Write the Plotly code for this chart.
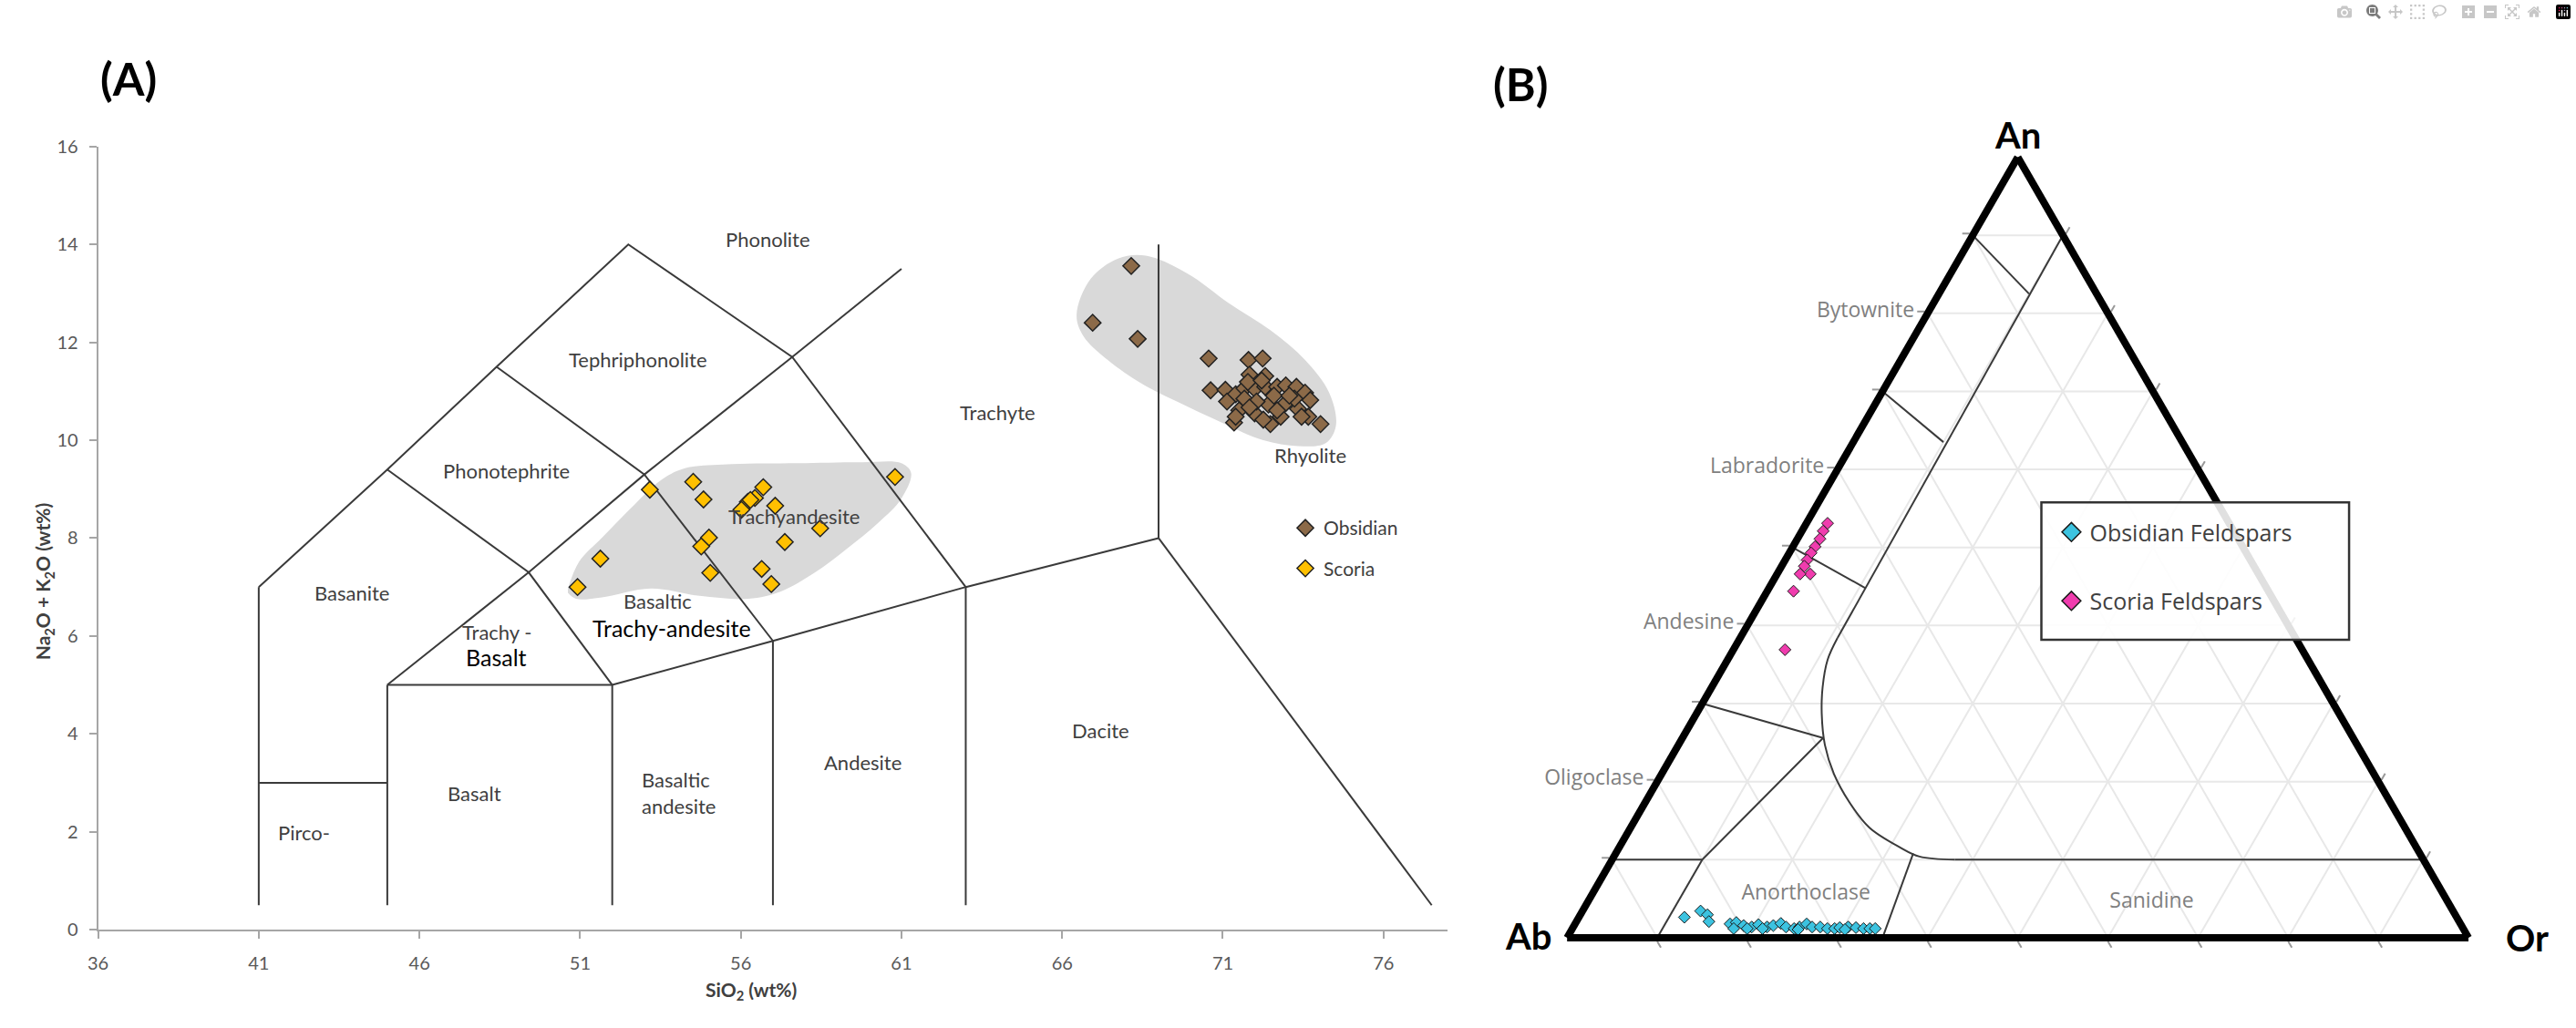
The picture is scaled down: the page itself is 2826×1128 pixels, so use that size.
import plotly.graph_objects as go

# ---------------- Panel A : TAS diagram data ----------------
OBSIDIAN_SIO2 = [68.15, 66.95, 68.35, 70.56, 71.80, 72.24, 70.62, 71.83, 72.32,
                 71.08, 71.40, 71.67, 71.99, 72.32, 72.69, 72.96, 73.29, 73.56, 73.72,
                 71.13, 71.51, 71.99, 72.42, 72.59, 72.96, 73.34, 73.66, 74.04, 71.35,
                 72.48, 72.80, 72.26, 71.67, 72.05, 73.23, 73.45, 71.78, 72.21, 71.83,
                 71.40, 72.69, 73.07]
OBSIDIAN_ALK = [13.56, 12.40, 12.07, 11.67, 11.64, 11.67, 11.02, 11.34, 11.31,
                11.03, 10.94, 11.06, 11.05, 11.09, 11.09, 11.12, 11.09, 10.97, 10.82,
                10.79, 10.61, 10.55, 10.73, 10.91, 10.76, 10.64, 10.48, 10.33, 10.36,
                10.33, 10.48, 10.42, 10.85, 10.79, 10.85, 10.48, 11.19, 11.22, 10.67,
                10.48, 10.61, 10.91]

SCORIA_SIO2 = [54.52, 53.17, 54.84, 56.70, 56.44, 56.22, 56.02, 57.07, 55.01,
               54.77, 58.47, 57.37, 51.63, 55.05, 56.65, 56.95, 50.92, 60.80, 56.30]
SCORIA_ALK = [9.15, 8.99, 8.79, 9.04, 8.82, 8.74, 8.58, 8.66, 8.01,
              7.83, 8.20, 7.92, 7.58, 7.29, 7.37, 7.06, 7.00, 9.25, 8.78]

# grey highlight fields drawn around each group
OBS_FIELD_SIO2 = [66.45, 66.88, 67.74, 68.60, 69.89, 71.19, 72.48, 73.56, 74.31, 74.52,
                  74.20, 73.34, 72.26, 70.97, 69.57, 68.49, 67.42, 66.66, 66.45]
OBS_FIELD_ALK = [12.56, 13.29, 13.71, 13.77, 13.41, 12.80, 12.25, 11.64, 10.97, 10.30,
                 9.94, 9.88, 10.00, 10.36, 10.79, 11.15, 11.64, 12.13, 12.56]
SCO_FIELD_SIO2 = [50.62, 50.97, 51.68, 52.70, 53.51, 54.22, 55.73, 57.76, 59.78, 61.00,
                  61.30, 61.00, 60.29, 59.28, 58.27, 57.25, 56.24, 54.72, 53.20, 51.68,
                  50.87, 50.62]
SCO_FIELD_ALK = [6.97, 7.52, 8.01, 8.69, 9.18, 9.42, 9.51, 9.53, 9.55, 9.53,
                 9.33, 8.81, 8.32, 7.77, 7.28, 6.91, 6.76, 6.82, 6.97, 6.79,
                 6.76, 6.88]

# TAS field boundaries (SiO2, Na2O+K2O)
TAS_BOUNDARIES = [
    [(41, 0.5), (41, 7)],
    [(41, 3), (45, 3)],
    [(45, 0.5), (45, 5)],
    [(45, 5), (52, 5)],
    [(52, 0.5), (52, 5)],
    [(57, 0.5), (57, 5.9)],
    [(63, 0.5), (63, 7)],
    [(41, 7), (45, 9.4), (48.4, 11.5), (52.5, 14), (57.6, 11.7), (63, 7)],
    [(45, 5), (49.4, 7.3), (53, 9.3), (57.6, 11.7), (61, 13.5)],
    [(45, 9.4), (49.4, 7.3), (52, 5)],
    [(48.4, 11.5), (53, 9.3), (57, 5.9)],
    [(52, 5), (57, 5.9), (63, 7), (69, 8)],
    [(69, 8), (69, 14)],
    [(69, 8), (77.5, 0.5)],
]

TAS_LABELS = [
    ("Phonolite", 56.85, 14.1),
    ("Tephriphonolite", 52.8, 11.65),
    ("Phonotephrite", 48.7, 9.38),
    ("Basanite", 43.9, 6.88),
    ("Trachy -", 48.4, 6.08),
    ("Basaltic", 53.4, 6.71),
    ("Trachyandesite", 57.66, 8.44),
    ("Trachyte", 64.0, 10.57),
    ("Rhyolite", 73.72, 9.69),
    ("Pirco-", 42.4, 1.98),
    ("Basalt", 47.7, 2.78),
    ("Andesite", 59.8, 3.42),
    ("Dacite", 67.2, 4.07),
]
TAS_LABELS_BLACK = [
    ("Basalt", 48.4, 5.57),
    ("Trachy-andesite", 53.85, 6.16),
]
TAS_LABEL_LEFT = ("Basaltic<br>andesite", 52.87, 2.8)

X_TICKS = [36, 41, 46, 51, 56, 61, 66, 71, 76]
Y_TICKS = [0, 2, 4, 6, 8, 10, 12, 14, 16]

# ---------------- Panel B : feldspar ternary data (An %, Or %) ----------------
OBS_FELD_AN = [2.62, 3.42, 2.94, 2.07, 1.76, 1.95, 1.56, 1.37, 1.68, 1.37, 1.56, 1.83,
               1.37, 1.17, 1.37, 1.76, 1.37, 1.37, 1.17, 1.17, 1.29, 1.37, 1.29, 1.17,
               1.17, 1.17, 1.17, 1.17, 1.17, 1.05, 1.05]
OBS_FELD_OR = [11.7, 13.1, 14.1, 14.7, 17.2, 17.8, 18.8, 19.8, 20.4, 21.5, 22.1, 22.8,
               23.6, 24.6, 25.1, 25.7, 26.5, 27.4, 28.3, 29.1, 29.6, 30.5, 31.4, 32.3,
               33.0, 33.6, 17.9, 19.4, 21.1, 25.1, 30.3]

SCO_FELD_AN = [53.1, 52.1, 51.1, 50.1, 49.3, 48.4, 47.6, 46.6, 46.6, 44.4, 36.9]
SCO_FELD_OR = [2.35, 2.36, 2.5, 2.46, 2.42, 2.43, 2.52, 3.67, 2.55, 2.92, 5.72]

# field boundaries as (An, Or) polylines
FELD_LINES = [
    [(90, 0), (82.5, 10)],
    [(90, 10), (38.4, 10.8)],
    [(70, 0), (63.5, 10)],
    [(50, 0), (44.8, 10.7)],
    [(30, 0), (25.6, 15.6)],
    [(25.6, 15.6), (10, 10), (10, 0)],
    [(10, 10), (0, 10)],
    [(10.8, 33), (0, 35)],
    [(10, 38), (10, 90)],
]
FELD_CURVE = [(38.4, 10.8), (35.6, 11.1), (32.1, 12.3), (28.7, 13.9), (24.7, 16.25),
              (21.0, 19.1), (17.3, 22.7), (14.1, 26.5), (11.6, 31.1), (10.4, 33.9),
              (10.0, 38)]
FELD_LABELS = [("Anorthoclase", 5.6, 23.7), ("Sanidine", 4.5, 62.6)]
AN_TICKS = [10, 20, 30, 40, 50, 60, 70, 80, 90]
AN_TICKTEXT = [" ", "Oligoclase", " ", "Andesine", " ", "Labradorite", " ", "Bytownite", " "]

# ---------------- styles ----------------
W, H = 2826, 1128
FONT_A = "Lato"
FONT_B = "Open Sans"
LINE_COL = "#3a3a3a"
AXIS_GREY = "#a6a6a6"
BROWN = "#8c6a48"
GOLD = "#ffc000"
CYAN = "#3cc3e0"
PINK = "#f03cae"


def px_x(p):
    return p / W


def px_y(p):
    return 1 - p / H


fig = go.Figure()

# grey highlight fields
for fx, fy in [(OBS_FIELD_SIO2, OBS_FIELD_ALK), (SCO_FIELD_SIO2, SCO_FIELD_ALK)]:
    fig.add_trace(go.Scatter(x=fx, y=fy, mode="lines", fill="toself",
                             fillcolor="#d9d9d9", line=dict(width=0, shape="spline", smoothing=1.0),
                             showlegend=False, hoverinfo="skip"))

# TAS boundaries
bx, by = [], []
for seg in TAS_BOUNDARIES:
    for x, y in seg:
        bx.append(x)
        by.append(y)
    bx.append(None)
    by.append(None)
fig.add_trace(go.Scatter(x=bx, y=by, mode="lines", line=dict(color=LINE_COL, width=2),
                         showlegend=False, hoverinfo="skip"))

fig.add_trace(go.Scatter(x=OBSIDIAN_SIO2, y=OBSIDIAN_ALK, mode="markers", name="Obsidian",
                         marker=dict(symbol="diamond", size=14, color=BROWN,
                                     line=dict(color="#222222", width=1.5)),
                         legend="legend", legendgroup="a1"))
fig.add_trace(go.Scatter(x=SCORIA_SIO2, y=SCORIA_ALK, mode="markers", name="Scoria",
                         marker=dict(symbol="diamond", size=14, color=GOLD,
                                     line=dict(color="#222222", width=1.5)),
                         legend="legend", legendgroup="a2"))

# ---------------- ternary traces ----------------
for seg in FELD_LINES:
    fig.add_trace(go.Scatterternary(a=[p[0] for p in seg], c=[p[1] for p in seg],
                                    mode="lines", line=dict(color=LINE_COL, width=2),
                                    showlegend=False, hoverinfo="skip"))
fig.add_trace(go.Scatterternary(a=[p[0] for p in FELD_CURVE], c=[p[1] for p in FELD_CURVE],
                                mode="lines", line=dict(color=LINE_COL, width=2, shape="spline"),
                                showlegend=False, hoverinfo="skip"))
fig.add_trace(go.Scatterternary(a=[l[1] for l in FELD_LABELS], c=[l[2] for l in FELD_LABELS],
                                text=[l[0] for l in FELD_LABELS], mode="text",
                                textfont=dict(family=FONT_B, size=23, color="#808080"),
                                showlegend=False, hoverinfo="skip"))

fig.add_trace(go.Scatterternary(a=OBS_FELD_AN, c=OBS_FELD_OR, mode="markers",
                                marker=dict(symbol="diamond", size=10, color=CYAN,
                                            line=dict(color="#1a1a1a", width=1)),
                                showlegend=False))
fig.add_trace(go.Scatterternary(a=SCO_FELD_AN, c=SCO_FELD_OR, mode="markers",
                                marker=dict(symbol="diamond", size=10, color=PINK,
                                            line=dict(color="#1a1a1a", width=1)),
                                showlegend=False))
# legend-only entries for panel B (no visible points)
fig.add_trace(go.Scatter(x=[None], y=[None], mode="markers", name="Obsidian Feldspars",
                         marker=dict(symbol="diamond", size=30, color=CYAN,
                                     line=dict(color="#1a1a1a", width=1.5)),
                         legend="legend2", legendgroup="b1"))
fig.add_trace(go.Scatter(x=[None], y=[None], mode="markers", name="Scoria Feldspars",
                         marker=dict(symbol="diamond", size=30, color=PINK,
                                     line=dict(color="#1a1a1a", width=1.5)),
                         legend="legend2", legendgroup="b2"))

# ---------------- annotations ----------------
ann = []
for t, x, y in TAS_LABELS:
    ann.append(dict(text=t, x=x, y=y, xref="x", yref="y", showarrow=False,
                    font=dict(family=FONT_A, size=22, color="#404040")))
for t, x, y in TAS_LABELS_BLACK:
    ann.append(dict(text=t, x=x, y=y, xref="x", yref="y", showarrow=False,
                    font=dict(family=FONT_A, size=25, color="#000000")))
ann.append(dict(text=TAS_LABEL_LEFT[0], x=TAS_LABEL_LEFT[1], y=TAS_LABEL_LEFT[2],
                xref="x", yref="y", showarrow=False, xanchor="left", align="left",
                font=dict(family=FONT_A, size=22, color="#404040")))


def paper_text(text, x, y, size, color="#000", angle=0):
    return dict(text=text, x=px_x(x), y=px_y(y), xref="paper", yref="paper",
                xanchor="center", yanchor="middle", showarrow=False, textangle=angle,
                font=dict(family=FONT_A, size=size, color=color))


ann += [
    paper_text("<b>(A)</b>", 130, 75, 50),
    paper_text("<b>(B)</b>", 1663, 81, 50),
    paper_text("<b>SiO<sub>2</sub> (wt%)</b>", 815, 1097, 21, "#404040"),
    paper_text("<b>Na<sub>2</sub>O + K<sub>2</sub>O (wt%)</b>", 37, 638, 21, "#404040", -90),
    paper_text("<b>An</b>", 2211, 138, 40),
    paper_text("<b>Ab</b>", 1672, 1036, 40),
    paper_text("<b>Or</b>", 2772, 1038, 40),
]

axis_common = dict(showgrid=False, zeroline=False, showline=True, linecolor=AXIS_GREY,
                   linewidth=2, ticks="outside", ticklen=8, tickwidth=2, tickcolor=AXIS_GREY,
                   tickfont=dict(family=FONT_A, size=20, color="#595959"))

tern_axis = dict(linecolor="#000000", linewidth=8, showgrid=True, gridcolor="#e8e8e8",
                 gridwidth=1.5, ticks="outside", ticklen=8, tickwidth=1.5,
                 tickcolor="#999999", title=dict(text=""))

fig.update_layout(
    width=W, height=H, margin=dict(l=0, r=0, t=0, b=0),
    paper_bgcolor="white", plot_bgcolor="white",
    xaxis=dict(domain=[px_x(96), px_x(1583)], range=[36, 78], tickvals=X_TICKS,
               ticklabelstandoff=10, **axis_common),
    yaxis=dict(domain=[px_y(1029), px_y(151)], range=[0, 16], tickvals=Y_TICKS,
               ticklabelstandoff=8, **axis_common),
    ternary=dict(
        domain=dict(x=[px_x(1706), px_x(2716)], y=[px_y(1038), px_y(163)]),
        sum=100, bgcolor="white",
        aaxis=dict(tickvals=AN_TICKS, ticktext=AN_TICKTEXT,
                   tickfont=dict(family=FONT_B, size=23, color="#808080"), **tern_axis),
        baxis=dict(tickvals=AN_TICKS, showticklabels=False, **tern_axis),
        caxis=dict(tickvals=AN_TICKS, showticklabels=False, **tern_axis),
    ),
    legend=dict(x=px_x(1406), y=px_y(558), xanchor="left", yanchor="top",
                bgcolor="rgba(0,0,0,0)", tracegroupgap=14,
                font=dict(family=FONT_A, size=21, color="#404040")),
    legend2=dict(x=px_x(2250), y=px_y(560), xanchor="left", yanchor="top",
                 bgcolor="rgba(0,0,0,0)", tracegroupgap=40,
                 font=dict(family=FONT_B, size=25, color="#404040")),
    shapes=[dict(type="rect", xref="paper", yref="paper", x0=px_x(2237), x1=px_x(2576),
                 y0=px_y(704), y1=px_y(550), line=dict(color="#333333", width=2.5),
                 fillcolor="rgba(255,255,255,0.88)", layer="above")],
    annotations=ann,
    showlegend=True,
)

fig.write_html("out.html", post_script="document.body.style.margin='0';")
